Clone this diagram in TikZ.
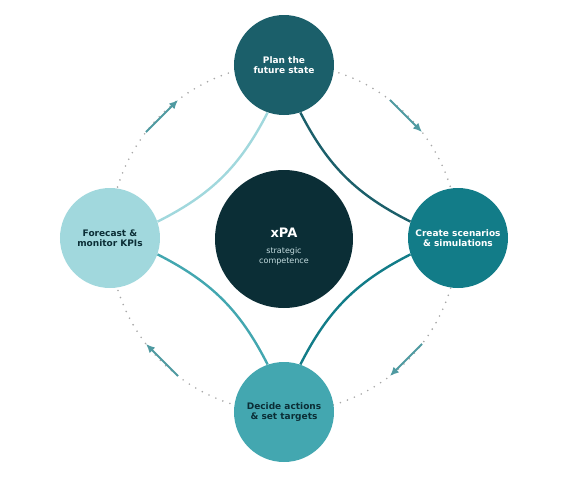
\documentclass[tikz,border=0pt]{standalone}
\usepackage{fontspec}
\setmainfont{DejaVu Sans}
\usetikzlibrary{arrows.meta}

\definecolor{planc}{HTML}{1B5F6A}
\definecolor{createc}{HTML}{127C88}
\definecolor{decidec}{HTML}{43A7B0}
\definecolor{forecastc}{HTML}{A1D8DD}
\definecolor{hubc}{HTML}{0B2E36}
\definecolor{hubtext}{HTML}{C5DDE0}
\definecolor{ringc}{HTML}{A8A8A8}
\definecolor{flowc}{HTML}{4F9AA1}

\begin{document}
\begin{tikzpicture}[x=1pt, y=1pt,
    stage/.style={circle, minimum size=100pt, inner sep=0pt, align=center,
      font=\bfseries\fontsize{9}{10.5}\selectfont},
    link/.style={line width=2.4pt},
    ring/.style={ringc, line width=1.8pt, line cap=round, dash pattern=on 0pt off 7.5pt},
    flow/.style={flowc, line width=2pt, -{Latex[length=9pt, width=8pt]}}]
    \useasboundingbox (-284,-242) rectangle (284,238);

    % dotted ring and the clockwise arrows on it
    \draw[ring] (0,0) circle (174);
    \foreach \a in {135,45,-45,-135}
    {\coordinate (s\a) at (\a+7.5:174);
     \coordinate (e\a) at (\a-7.5:174);
     \draw[flow] (s\a) -- (e\a);
    }

    % the four stages and the hub
    \node[stage, fill=planc, text=white] (plan) at (0,173) {Plan the\\future state};
    \node[stage, fill=createc, text=white] (create) at (174,0) {Create scenarios\\\& simulations};
    \node[stage, fill=decidec, text=hubc] (decide) at (0,-174) {Decide actions\\\& set targets};
    \node[stage, fill=forecastc, text=hubc] (forecast) at (-174,0) {Forecast \&\\monitor KPIs};
    \node[circle, fill=hubc, minimum size=138pt, inner sep=0pt] (hub) at (0,-1) {};
    \node[text=white, align=center, font=\bfseries\fontsize{13}{15}\selectfont]
      (hubtitle) at (0,5) {xPA};
    \node[text=hubtext, align=center, font=\fontsize{8}{9.8}\selectfont, below=3pt]
      (hubsub) at (hubtitle.south) {strategic\\competence};

    % links between the stages
    \draw[link, forecastc] (forecast.19) to[bend right=18] (plan.-109);
    \draw[link, planc] (plan.-71) to[bend right=18] (create.161);
    \draw[link, createc] (create.-161) to[bend right=18] (decide.71);
    \draw[link, decidec] (decide.109) to[bend right=18] (forecast.-19);

  \end{tikzpicture}
\end{document}
